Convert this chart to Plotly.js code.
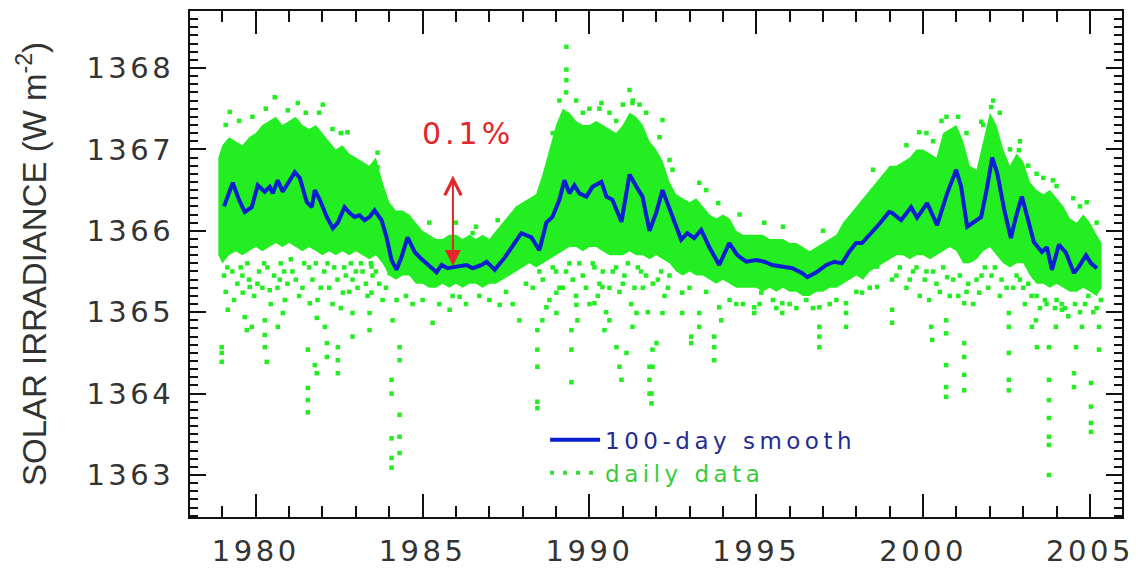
<!DOCTYPE html>
<html><head><meta charset="utf-8">
<script src="https://cdn.plot.ly/plotly-3.0.1.min.js"></script>
<style>
html,body{margin:0;padding:0;background:#fff;}
#chart{width:1138px;height:569px;}
.xtick text,.ytick text{letter-spacing:3.5px;}
.legendtext{letter-spacing:4.5px;}
.annotation-text{letter-spacing:4px;}
</style></head><body><div id="chart"></div><script>
// ---- 100-day smooth (blue line) ----
const smoothX = [1979.05,1979.31,1979.50,1979.67,1979.88,1980.06,1980.27,1980.42,1980.51,1980.66,1980.81,1980.96,1981.17,1981.32,1981.53,1981.68,1981.77,1981.92,1982.13,1982.31,1982.46,1982.66,1982.81,1982.96,1983.11,1983.26,1983.41,1983.56,1983.77,1983.92,1984.07,1984.22,1984.37,1984.55,1984.76,1984.95,1985.21,1985.42,1985.57,1985.75,1986.02,1986.32,1986.50,1986.77,1986.92,1987.16,1987.46,1987.69,1987.96,1988.26,1988.50,1988.71,1988.89,1989.10,1989.25,1989.40,1989.55,1989.70,1989.91,1990.09,1990.36,1990.51,1990.69,1990.96,1991.20,1991.41,1991.59,1991.80,1992.00,1992.19,1992.49,1992.75,1992.93,1993.14,1993.35,1993.59,1993.89,1994.19,1994.43,1994.70,1995.00,1995.24,1995.48,1995.78,1996.08,1996.38,1996.53,1996.80,1997.10,1997.34,1997.57,1997.78,1997.99,1998.17,1998.44,1998.68,1998.98,1999.07,1999.34,1999.64,1999.82,2000.12,2000.42,2000.72,2000.99,2001.14,2001.32,2001.59,2001.74,2001.92,2002.07,2002.22,2002.43,2002.63,2002.78,2002.96,2003.11,2003.32,2003.56,2003.71,2003.86,2004.07,2004.28,2004.52,2004.67,2004.88,2005.03,2005.21];
const smoothY = [1366.30,1366.59,1366.38,1366.23,1366.29,1366.56,1366.48,1366.54,1366.46,1366.62,1366.48,1366.59,1366.72,1366.65,1366.35,1366.29,1366.50,1366.38,1366.17,1366.03,1366.10,1366.29,1366.22,1366.17,1366.19,1366.13,1366.17,1366.25,1366.13,1365.92,1365.64,1365.52,1365.68,1365.92,1365.74,1365.66,1365.56,1365.49,1365.58,1365.54,1365.56,1365.58,1365.54,1365.58,1365.62,1365.52,1365.67,1365.80,1365.97,1365.92,1365.76,1366.10,1366.17,1366.38,1366.62,1366.46,1366.56,1366.46,1366.42,1366.54,1366.60,1366.42,1366.38,1366.11,1366.69,1366.54,1366.42,1366.00,1366.22,1366.50,1366.17,1365.89,1365.97,1365.91,1366.01,1365.80,1365.58,1365.85,1365.70,1365.62,1365.64,1365.62,1365.58,1365.56,1365.54,1365.48,1365.43,1365.49,1365.58,1365.62,1365.60,1365.74,1365.85,1365.85,1365.97,1366.08,1366.23,1366.22,1366.13,1366.29,1366.16,1366.34,1366.07,1366.46,1366.75,1366.54,1366.05,1366.13,1366.17,1366.54,1366.90,1366.71,1366.26,1365.91,1366.17,1366.42,1366.17,1365.86,1365.74,1365.80,1365.52,1365.83,1365.73,1365.48,1365.56,1365.70,1365.60,1365.54];

// ---- daily data: dense core envelope ----
const bandX = [1978.88,1979.0,1979.2,1979.4,1979.6,1979.8,1980.0,1980.2,1980.4,1980.6,1980.8,1981.0,1981.2,1981.4,1981.6,1981.8,1982.0,1982.2,1982.4,1982.6,1982.8,1983.0,1983.2,1983.4,1983.6,1983.8,1984.0,1984.2,1984.4,1984.6,1984.8,1985.0,1985.2,1985.4,1985.6,1985.8,1986.0,1986.2,1986.4,1986.6,1986.8,1987.0,1987.2,1987.4,1987.6,1987.8,1988.0,1988.2,1988.4,1988.6,1988.8,1989.0,1989.2,1989.4,1989.6,1989.8,1990.0,1990.2,1990.4,1990.6,1990.8,1991.0,1991.2,1991.4,1991.6,1991.8,1992.0,1992.2,1992.4,1992.6,1992.8,1993.0,1993.2,1993.4,1993.6,1993.8,1994.0,1994.2,1994.4,1994.6,1994.8,1995.0,1995.2,1995.4,1995.6,1995.8,1996.0,1996.2,1996.4,1996.6,1996.8,1997.0,1997.2,1997.4,1997.6,1997.8,1998.0,1998.2,1998.4,1998.6,1998.8,1999.0,1999.2,1999.4,1999.6,1999.8,2000.0,2000.2,2000.4,2000.6,2000.8,2001.0,2001.2,2001.4,2001.6,2001.8,2002.0,2002.2,2002.4,2002.6,2002.8,2003.0,2003.2,2003.4,2003.6,2003.8,2004.0,2004.2,2004.4,2004.6,2004.8,2005.0,2005.2,2005.35];
const bandUpper = [1366.9,1367.05,1367.15,1367.1,1367.05,1367.15,1367.2,1367.3,1367.35,1367.4,1367.3,1367.35,1367.4,1367.3,1367.25,1367.3,1367.2,1367.1,1367.0,1367.05,1366.95,1366.9,1366.85,1366.8,1366.9,1366.6,1366.35,1366.25,1366.25,1366.2,1366.1,1366.0,1365.95,1365.9,1365.9,1365.95,1365.95,1365.9,1365.95,1365.9,1365.95,1365.9,1366.0,1366.1,1366.2,1366.3,1366.35,1366.4,1366.45,1366.7,1367.0,1367.3,1367.5,1367.45,1367.35,1367.3,1367.3,1367.35,1367.3,1367.25,1367.2,1367.3,1367.45,1367.4,1367.3,1367.1,1367.0,1366.85,1366.6,1366.45,1366.4,1366.35,1366.4,1366.3,1366.2,1366.15,1366.2,1366.15,1366.0,1365.95,1365.95,1365.95,1365.95,1365.9,1365.9,1365.9,1365.85,1365.85,1365.8,1365.75,1365.8,1365.85,1365.9,1365.95,1366.1,1366.2,1366.3,1366.4,1366.5,1366.6,1366.7,1366.8,1366.8,1366.85,1366.9,1367.0,1367.0,1366.95,1366.9,1367.2,1367.25,1367.3,1367.1,1366.8,1366.75,1367.1,1367.45,1367.3,1367.0,1366.8,1366.95,1366.85,1366.6,1366.5,1366.45,1366.5,1366.4,1366.3,1366.15,1366.1,1366.2,1366.1,1365.95,1365.85];
const bandLower = [1365.7,1365.6,1365.7,1365.75,1365.7,1365.75,1365.8,1365.75,1365.8,1365.85,1365.8,1365.85,1365.8,1365.75,1365.8,1365.75,1365.7,1365.75,1365.7,1365.75,1365.7,1365.75,1365.7,1365.65,1365.7,1365.6,1365.45,1365.4,1365.45,1365.45,1365.35,1365.35,1365.3,1365.3,1365.35,1365.3,1365.35,1365.3,1365.35,1365.35,1365.3,1365.35,1365.35,1365.4,1365.45,1365.5,1365.55,1365.6,1365.55,1365.6,1365.65,1365.7,1365.75,1365.8,1365.8,1365.75,1365.8,1365.8,1365.75,1365.7,1365.7,1365.7,1365.75,1365.7,1365.7,1365.65,1365.7,1365.65,1365.6,1365.5,1365.45,1365.5,1365.45,1365.45,1365.4,1365.35,1365.4,1365.35,1365.3,1365.3,1365.3,1365.3,1365.25,1365.3,1365.25,1365.3,1365.25,1365.25,1365.2,1365.2,1365.25,1365.25,1365.3,1365.3,1365.35,1365.4,1365.45,1365.4,1365.5,1365.55,1365.6,1365.65,1365.7,1365.7,1365.65,1365.7,1365.7,1365.65,1365.7,1365.75,1365.8,1365.75,1365.6,1365.6,1365.65,1365.75,1365.8,1365.7,1365.6,1365.55,1365.6,1365.6,1365.45,1365.35,1365.35,1365.3,1365.35,1365.3,1365.25,1365.25,1365.3,1365.25,1365.2,1365.3];

// ---- daily data: scattered points outside the dense core ----
const dotX = [1978.98,1978.98,1978.98,1979.16,1979.61,1979.67,1979.73,1979.88,1979.82,1980.27,1980.27,1980.27,1980.33,1980.42,1980.66,1980.81,1980.87,1980.72,1981.56,1981.56,1981.56,1981.56,1981.62,1981.77,1981.83,1981.83,1982.07,1982.13,1982.13,1982.46,1982.46,1982.46,1982.61,1982.90,1982.90,1982.90,1983.41,1983.41,1983.47,1983.47,1984.07,1984.07,1984.07,1984.07,1984.07,1984.31,1984.31,1984.31,1984.10,1984.22,1984.31,1984.31,1984.01,1984.91,
1979.05,1979.10,1979.30,1979.45,1979.55,1979.80,1979.95,1980.10,1980.20,1980.35,1980.55,1980.75,1980.95,1981.10,1981.30,1981.45,1981.70,1981.85,1982.05,1982.20,1982.35,1982.55,1982.70,1982.85,1983.05,1983.20,1983.35,1983.50,1983.70,1983.90,
1979.15,1979.35,1979.60,1979.75,1980.05,1980.25,1980.45,1980.65,1980.85,1981.05,1981.20,1981.40,1981.60,1981.80,1981.95,1982.15,1982.30,1982.45,1982.65,1982.80,1983.00,1983.15,1983.30,1983.45,1983.60,1983.80,
1979.22,1980.57,1981.26,1982.01,1980.96,1982.75,1983.65,1983.65,1979.10,1979.50,1979.90,1980.30,1981.50,1981.90,1982.30,1982.55,
1984.50,1984.70,1985.00,1985.50,1985.90,1986.30,1986.70,1987.00,1987.50,1987.70,1988.10,1986.00,1986.60,1985.20,
1985.30,1985.81,1986.11,1987.31,1987.90,1987.25,1986.50,1988.44,1988.44,1988.44,1988.44,1988.44,1988.59,1988.71,1989.01,1989.01,1989.46,1989.46,1989.46,1989.61,1989.64,1989.31,1989.31,1989.31,1990.36,1991.20,1991.29,1990.45,1990.60,1990.81,1990.90,1990.96,1991.11,1991.29,1991.80,1991.80,1991.80,1991.89,1991.41,1990.15,1990.39,
1988.30,1988.60,1988.80,1989.00,1989.20,1989.40,1989.60,1989.80,1990.00,1990.15,1990.30,1990.50,1990.70,1990.90,1991.05,1991.25,1991.45,1991.60,1991.75,1992.05,1992.25,1992.40,
1988.50,1988.90,1989.10,1989.30,1989.50,1989.70,1989.90,1990.10,1990.25,1990.40,1990.60,1990.80,1991.00,1991.15,1991.35,1991.55,1991.70,1991.90,1992.15,1992.35,
1989.10,1989.60,1990.00,1990.60,1991.00,1991.50,1988.90,1989.30,1989.80,1990.30,1990.80,1991.30,1991.70,1992.10,
1991.86,1991.86,1991.89,1992.01,1992.19,1992.19,1992.40,1992.49,1992.78,1992.78,1993.05,1993.05,1993.29,1993.29,1993.29,1993.74,1993.74,1993.74,1993.95,1993.86,1993.89,1994.94,1994.94,1995.24,1995.15,1995.78,1995.78,1996.50,1996.89,1996.89,1996.89,1996.89,1997.69,1997.69,1997.69,1998.17,1998.62,1998.62,1998.68,1994.40,1995.50,1996.20,1997.20,
1993.00,1993.50,1994.20,1994.60,1995.10,1995.60,1996.00,1996.70,1997.40,1998.00,1998.40,1993.50,1994.50,1995.80,1997.00,1998.50,
1999.07,1999.07,1999.07,1999.88,2000.18,2000.24,2000.27,2000.69,2000.69,2000.69,2000.69,2000.69,2000.72,2001.23,2001.23,2001.23,2001.23,2001.23,2001.68,2002.04,2001.74,2002.57,2002.57,2002.57,2002.57,2002.57,2002.87,2003.41,2003.77,2003.77,2003.77,2003.77,2003.77,2003.77,2003.77,2003.98,2003.89,2004.52,2004.52,2004.58,2004.76,2005.03,2005.03,2005.03,2005.03,2005.27,2005.27,2005.33,2003.26,2003.38,2004.16,
1999.20,1999.50,1999.70,1999.90,2000.05,2000.30,2000.50,2000.90,2001.05,2001.35,2001.50,2001.75,2001.95,2002.15,2002.30,2002.70,2002.90,2003.05,2003.25,2003.50,2003.65,2003.95,2004.15,2004.35,2004.70,2004.85,2005.10,
1999.30,1999.60,1999.80,2000.10,2000.40,2000.60,2000.80,2001.10,2001.30,2001.60,2001.85,2002.05,2002.35,2002.50,2002.80,2003.00,2003.15,2003.40,2003.70,2004.00,2004.25,2004.55,2004.95,2005.20,
2000.30,2000.70,2001.05,2001.80,2002.10,2002.60,2003.15,2003.60,2004.50,2004.90,1999.50,2000.10,2000.55,2001.30,2002.30,2002.90,2003.40,2004.00,2004.70,2005.20];
const dotY = [1364.57,1364.50,1364.39,1365.03,1365.24,1364.94,1364.78,1364.82,1365.31,1364.90,1364.72,1364.57,1364.39,1365.27,1364.82,1364.99,1365.15,1365.40,1364.54,1364.07,1363.92,1363.77,1365.11,1364.35,1364.25,1364.93,1364.82,1364.62,1364.45,1364.57,1364.41,1364.25,1365.24,1364.99,1364.70,1365.40,1364.99,1364.78,1365.24,1365.56,1364.17,1364.00,1363.45,1363.21,1363.09,1363.74,1363.47,1363.27,1364.90,1365.15,1364.57,1364.41,1365.48,1365.40,
1365.45,1365.25,1365.50,1365.35,1365.55,1365.40,1365.20,1365.50,1365.30,1365.55,1365.45,1365.60,1365.35,1365.50,1365.20,1365.60,1365.40,1365.15,1365.50,1365.30,1365.55,1365.05,1365.45,1365.60,1365.30,1365.50,1365.20,1365.45,1365.35,1365.30,
1365.55,1365.15,1365.45,1365.60,1365.35,1365.60,1365.10,1365.30,1365.50,1365.65,1365.40,1365.30,1365.55,1365.60,1365.30,1365.60,1365.10,1365.40,1365.55,1365.25,1365.50,1365.60,1365.35,1365.60,1365.50,1365.15,
1367.46,1367.64,1367.57,1367.55,1367.48,1367.21,1366.96,1366.78,1367.30,1367.35,1367.40,1367.50,1367.45,1367.45,1367.25,1367.20,
1365.20,1365.10,1365.15,1365.10,1365.20,1365.10,1365.20,1365.15,1365.25,1365.10,1365.35,1366.10,1366.05,1366.10,
1364.87,1365.03,1365.19,1365.09,1364.90,1366.13,1365.97,1364.78,1364.54,1364.33,1363.90,1363.82,1364.90,1365.06,1364.99,1365.24,1364.54,1364.14,1364.78,1365.09,1364.90,1368.26,1367.98,1367.85,1367.57,1367.73,1367.57,1364.78,1364.90,1364.57,1364.33,1364.17,1364.50,1364.82,1364.33,1364.17,1364.00,1364.54,1364.99,1365.11,1365.31,
1365.30,1365.40,1365.15,1365.50,1365.30,1365.60,1365.20,1365.45,1365.10,1365.55,1365.35,1365.00,1365.50,1365.25,1365.45,1365.10,1365.55,1365.30,1365.00,1365.40,1365.20,1365.45,
1365.50,1365.55,1365.30,1365.50,1365.40,1365.60,1365.30,1365.60,1365.20,1365.50,1365.30,1365.55,1365.35,1365.60,1365.30,1365.50,1365.45,1365.35,1365.50,1365.30,
1367.60,1367.60,1367.50,1367.45,1367.55,1367.55,1367.20,1367.70,1367.45,1367.50,1367.35,1367.60,1367.45,1367.15,
1364.00,1363.88,1364.33,1364.62,1364.99,1367.36,1366.87,1366.75,1365.24,1364.99,1364.70,1364.62,1366.59,1364.99,1364.82,1364.70,1364.57,1364.41,1364.90,1366.34,1365.06,1364.99,1365.06,1366.10,1365.24,1365.11,1364.99,1365.15,1365.06,1364.82,1364.70,1364.57,1365.11,1364.99,1364.82,1365.24,1365.56,1365.31,1366.54,1365.10,1365.15,1365.05,1365.10,
1365.30,1365.25,1365.15,1365.10,1365.10,1365.05,1365.10,1365.05,1365.15,1365.25,1365.30,1366.50,1366.20,1366.05,1366.00,1366.75,
1365.40,1365.03,1364.87,1367.21,1365.15,1364.82,1364.66,1364.90,1364.74,1364.35,1364.08,1363.96,1365.43,1364.62,1364.45,1364.23,1364.04,1365.11,1365.24,1367.52,1367.34,1364.50,1364.17,1364.04,1364.82,1364.99,1366.99,1364.57,1364.57,1364.17,1363.92,1363.70,1363.47,1363.37,1363.00,1364.82,1366.62,1364.25,1364.08,1364.57,1364.82,1364.13,1363.84,1363.64,1363.53,1364.82,1364.54,1365.15,1364.82,1364.90,1365.03,
1365.45,1365.30,1365.50,1365.20,1365.40,1365.50,1365.25,1365.40,1365.20,1365.35,1365.10,1365.45,1365.30,1365.55,1365.20,1365.30,1365.40,1365.10,1365.20,1365.05,1365.15,1365.05,1365.10,1364.95,1365.00,1365.10,1365.00,
1365.55,1365.40,1365.55,1365.50,1365.35,1365.55,1365.20,1365.45,1365.25,1365.40,1365.55,1365.45,1365.40,1365.30,1365.45,1365.30,1365.35,1365.20,1365.10,1365.15,1365.05,1365.10,1365.20,1365.05,
1367.10,1367.40,1367.40,1367.30,1367.60,1367.00,1366.80,1366.65,1366.40,1366.35,1367.05,1367.20,1367.35,1367.20,1367.45,1367.10,1366.70,1366.55,1366.30,1366.10];

// ---- annotation values ----
const arrowYear = 1985.91, arrowLow = 1365.55, arrowHigh = 1366.68;
const labelYear = 1986.36, labelValue = 1367.2, labelText = '0.1%';

const xTicks = [1980, 1985, 1990, 1995, 2000, 2005];
const yTicks = [1363, 1364, 1365, 1366, 1367, 1368];

const GREEN = '#22ee22', BLUE = '#0a1fd2', RED = '#e4262a';
const FONT = 'DejaVu Sans';

const traces = [
  {x: bandX, y: bandLower, mode: 'lines', line: {width: 0, color: GREEN}, showlegend: false, hoverinfo: 'skip'},
  {x: bandX, y: bandUpper, mode: 'lines', fill: 'tonexty', fillcolor: GREEN, line: {width: 0, color: GREEN}, showlegend: false, hoverinfo: 'skip'},
  {x: dotX, y: dotY, mode: 'markers', marker: {size: 4.5, color: GREEN, symbol: 'square'}, showlegend: false},
  {x: smoothX, y: smoothY, mode: 'lines', line: {color: BLUE, width: 4}, name: '<span style="color:#1f2d8f">100-day smooth</span>', legendrank: 1},
  {x: [null], y: [null], mode: 'lines', line: {color: '#3ad83a', width: 4, dash: '4px,9px'}, name: '<span style="color:#3acb3a">daily data</span>', legendrank: 2}
];

const layout = {
  width: 1138, height: 569,
  margin: {l: 190, r: 16, t: 11, b: 52},
  paper_bgcolor: '#fff', plot_bgcolor: '#fff',
  font: {family: FONT, color: '#333'},
  showlegend: true,
  legend: {x: 0.381, y: 0.195, xanchor: 'left', yanchor: 'top', traceorder: 'normal', bgcolor: 'rgba(0,0,0,0)', font: {size: 23, family: FONT}, itemwidth: 50, tracegroupgap: 0},
  xaxis: {
    range: [1978.03, 2005.96], tickvals: xTicks, ticktext: xTicks.map(String),
    ticks: 'inside', ticklen: 23, tickwidth: 2, tickcolor: '#111',
    minor: {dtick: 1, tick0: 1978, ticks: 'inside', ticklen: 11, tickwidth: 2, tickcolor: '#111'},
    showline: true, linecolor: '#111', linewidth: 2, mirror: 'ticks',
    showgrid: false, zeroline: false,
    tickfont: {size: 29, family: FONT, color: '#333'}, ticklabelstandoff: 7
  },
  yaxis: {
    range: [1362.484, 1368.70], tickvals: yTicks, ticktext: yTicks.map(String),
    ticks: 'inside', ticklen: 16, tickwidth: 2, tickcolor: '#111',
    minor: {dtick: 0.1, tick0: 1362, ticks: 'inside', ticklen: 8, tickwidth: 2, tickcolor: '#111'},
    showline: true, linecolor: '#111', linewidth: 2, mirror: 'ticks',
    showgrid: false, zeroline: false,
    tickfont: {size: 29, family: FONT, color: '#333'}, ticklabelstandoff: 8,
    title: {text: 'SOLAR IRRADIANCE (W m<sup>-2</sup>)', font: {size: 33, family: 'Liberation Sans', color: '#333'}, standoff: 30}
  },
  annotations: [
    {x: arrowYear, y: arrowHigh, ax: arrowYear, ay: arrowLow, xref: 'x', yref: 'y', axref: 'x', ayref: 'y',
     text: '', showarrow: true, arrowhead: 5, arrowsize: 1.6, arrowwidth: 2, arrowcolor: RED,
     arrowside: 'end+start', startarrowhead: 2, startarrowsize: 1.6},
    {x: labelYear, y: labelValue, xref: 'x', yref: 'y', text: labelText, showarrow: false,
     font: {size: 30, family: FONT, color: RED}}
  ]
};

Plotly.newPlot('chart', traces, layout, {displayModeBar: false, staticPlot: true});
</script></body></html>
